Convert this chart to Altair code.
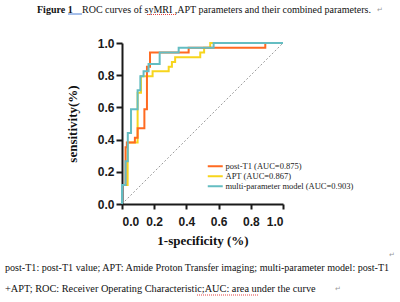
import altair as alt
import pandas as pd

# ---- data ----
series_names = ["post-T1 (AUC=0.875)", "APT (AUC=0.867)", "multi-parameter model (AUC=0.903)"]
series_colors = ["#FF6A21", "#F7D51D", "#64BDC2"]

postt1_fpr = [0, 0, 0.022, 0.022, 0.03, 0.03, 0.08, 0.08, 0.097, 0.097, 0.139, 0.139, 0.155, 0.155, 0.174, 0.174, 0.414, 0.414, 0.89, 0.89, 1.0]
postt1_tpr = [0, 0.118, 0.118, 0.353, 0.353, 0.382, 0.382, 0.412, 0.412, 0.471, 0.471, 0.588, 0.588, 0.853, 0.853, 0.941, 0.941, 0.971, 0.971, 1.0, 1.0]

apt_fpr = [0, 0, 0.035, 0.035, 0.097, 0.097, 0.118, 0.118, 0.19, 0.19, 0.29, 0.29, 0.31, 0.31, 0.33, 0.33, 0.486, 0.486, 0.51, 0.51, 0.548, 0.548, 1.0]
apt_tpr = [0, 0.118, 0.118, 0.382, 0.382, 0.691, 0.691, 0.794, 0.794, 0.824, 0.824, 0.853, 0.853, 0.882, 0.882, 0.912, 0.912, 0.941, 0.941, 0.971, 0.971, 1.0, 1.0]

multi_fpr = [0, 0, 0.022, 0.022, 0.036, 0.036, 0.056, 0.056, 0.097, 0.097, 0.114, 0.114, 0.134, 0.134, 0.165, 0.165, 0.234, 0.234, 0.352, 0.352, 0.569, 0.569, 1.0]
multi_tpr = [0, 0.118, 0.118, 0.265, 0.265, 0.441, 0.441, 0.588, 0.588, 0.706, 0.706, 0.794, 0.794, 0.824, 0.824, 0.87, 0.87, 0.941, 0.941, 0.971, 0.971, 1.0, 1.0]

diag_x = [0, 1]
diag_y = [0, 1]

axis_ticks = [0, 0.2, 0.4, 0.6, 0.8, 1.0]

fig_label = ["Figure 1"]
fig_title = ["ROC curves of syMRI ,APT parameters and their combined parameters."]
foot_line1 = ["post-T1: post-T1 value; APT: Amide Proton Transfer imaging; multi-parameter model: post-T1"]
foot_line2 = ["+APT; ROC: Receiver Operating Characteristic;AUC: area under the curve"]
para_marks = ["\u21b5"]

W, H = 161, 161
OX, OY = 122, 43  # plot origin inside the 400x302 page

def curve_df(name, xs, ys):
    return pd.DataFrame({"fpr": xs, "tpr": ys, "model": name, "idx": list(range(len(xs)))})

xscale = alt.Scale(domain=[0, 1], nice=False)
yscale = alt.Scale(domain=[0, 1], nice=False)

xaxis = alt.Axis(values=axis_ticks, format=".1f", title="1-specificity (%)",
                 labelFont="Liberation Sans", labelFontWeight="bold", labelFontSize=12,
                 labelColor="#1a1a1a", labelPadding=7, tickSize=5, tickWidth=2, tickColor="#1a1a1a",
                 domainColor="#1a1a1a", domainWidth=2, titleFont="Liberation Serif",
                 titleFontWeight="bold", titleFontSize=13, titleColor="#111111", titlePadding=7,
                 grid=False)
yaxis = alt.Axis(values=axis_ticks, format=".1f", title="sensitivity(%)",
                 labelFont="Liberation Sans", labelFontWeight="bold", labelFontSize=12,
                 labelColor="#1a1a1a", labelPadding=2, tickSize=6, tickWidth=2, tickColor="#1a1a1a",
                 domainColor="#1a1a1a", domainWidth=2, titleFont="Liberation Serif",
                 titleFontWeight="bold", titleFontSize=13, titleColor="#111111", titlePadding=18,
                 grid=False)

color = alt.Color("model:N",
                  scale=alt.Scale(domain=series_names, range=series_colors),
                  legend=alt.Legend(title=None, orient="none", legendX=89, legendY=119,
                                    symbolType="M-3,0H3", symbolSize=25, symbolStrokeWidth=2,
                                    labelFont="Liberation Serif", labelFontSize=8.5,
                                    labelColor="#222222", labelOffset=6, rowPadding=1, padding=0))

diag = alt.Chart(pd.DataFrame({"fpr": diag_x, "tpr": diag_y})).mark_line(
    color="#9c9c9c", strokeWidth=1, strokeDash=[2, 2]
).encode(x=alt.X("fpr:Q", scale=xscale, axis=xaxis), y=alt.Y("tpr:Q", scale=yscale, axis=yaxis))

def curve_layer(name, xs, ys):
    return alt.Chart(curve_df(name, xs, ys)).mark_line(strokeWidth=2).encode(
        x=alt.X("fpr:Q", scale=xscale, axis=xaxis),
        y=alt.Y("tpr:Q", scale=yscale, axis=yaxis),
        color=color,
        order="idx:Q",
    )

l_apt = curve_layer(series_names[1], apt_fpr, apt_tpr)
l_post = curve_layer(series_names[0], postt1_fpr, postt1_tpr)
l_multi = curve_layer(series_names[2], multi_fpr, multi_tpr)

def page_text(texts, px, py, bold=False, color="#111111", size=10):
    return alt.Chart(pd.DataFrame({"t": texts})).mark_text(
        align="left", baseline="middle", font="Liberation Serif", fontSize=size,
        fontWeight="bold" if bold else "normal", color=color
    ).encode(text="t:N", x=alt.value(px - OX), y=alt.value(py - OY))

def page_rule(x1, x2, py, color, dash=None):
    kw = dict(color=color, strokeWidth=1)
    if dash:
        kw["strokeDash"] = dash
    return alt.Chart(pd.DataFrame({"a": [0]})).mark_rule(**kw).encode(
        x=alt.value(x1 - OX), x2=alt.value(x2 - OX), y=alt.value(py - OY))

t1 = page_text(fig_label, 37, 10, bold=True)
t2 = page_text(fig_title, 82, 10, size=10)
t3 = page_text(para_marks, 377, 10, color="#999999", size=7)
t4 = page_text(foot_line1, 5, 268, size=10.1)
t5 = page_text(foot_line2, 5, 289, size=10.3)
t6 = page_text(para_marks, 389, 255, color="#999999", size=7)
t7 = page_text(para_marks, 335, 289, color="#999999", size=7)
r1 = page_rule(68, 82, 14, "#4a7fd6")
r2 = page_rule(147, 176, 14.5, "#e04040", [1, 1])
r3 = page_rule(197, 258, 295, "#e04040", [1, 1])

chart = alt.layer(diag, l_apt, l_post, l_multi, t1, t2, t3, t4, t5, t6, t7, r1, r2, r3).properties(
    width=W, height=H,
    autosize="none",
    padding={"left": OX, "top": OY, "right": 400 - OX - W, "bottom": 302 - OY - H},
    background="white",
).configure_view(stroke=None)

chart.save("out.html", embed_options={"renderer": "svg", "actions": False})
